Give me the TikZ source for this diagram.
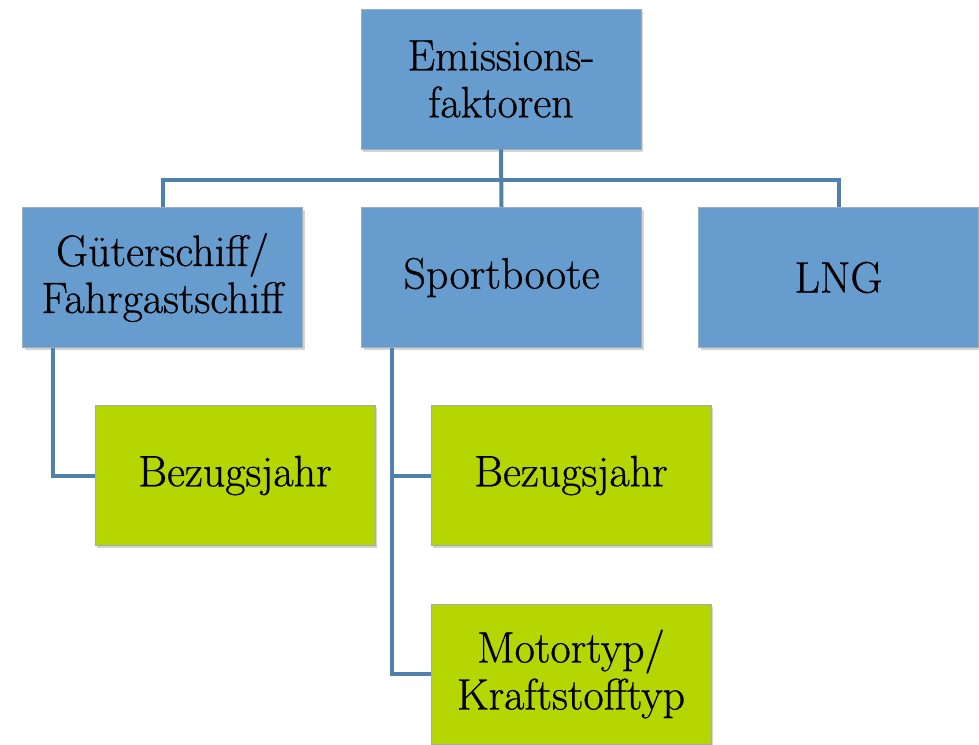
\documentclass[tikz,border=0pt]{standalone}
\usepackage{fontspec}
\newfontfamily\boxfont{Latin Modern Roman}[FakeBold=0.7]
\usetikzlibrary{shadows}
\definecolor{boxblue}{RGB}{102,157,206}
\definecolor{boxgreen}{RGB}{181,214,0}
\definecolor{linkblue}{RGB}{80,128,172}
\definecolor{edgegray}{RGB}{120,140,150}
\begin{document}
\begin{tikzpicture}[x=1pt,y=-1pt,
  box/.style={draw=edgegray!70,line width=0.6pt,minimum width=280pt,minimum height=140pt,
    align=center,inner sep=0pt,font=\boxfont\fontsize{44}{47}\selectfont,
    drop shadow={shadow xshift=2pt,shadow yshift=-2.5pt,opacity=0.35}},
  bluebox/.style={box,fill=boxblue},
  greenbox/.style={box,fill=boxgreen},
  link/.style={draw=linkblue,line width=4pt}]
\useasboundingbox (0,0) rectangle (979,744);
\node[bluebox] (top) at (501,79) {Emissions-\\faktoren};
\node[bluebox] (gs) at (162.5,277.5) {Güterschiff/\\Fahrgastschiff};
\node[bluebox] (sb) at (501.5,277.5) {Sportboote};
\node[bluebox] (lng) at (838.5,277.5) {LNG};
\node[greenbox] (bz1) at (235,475.5) {Bezugsjahr};
\node[greenbox] (bz2) at (571,475.5) {Bezugsjahr};
\node[greenbox] (mt) at (571,674) {Motortyp/\\Kraftstofftyp};
\coordinate (bus) at (501,180);
\draw[link] (top.south) -- (sb.north);
\draw[link] (gs.north) |- (bus) -| (lng.north);
\draw[link] ([xshift=-110pt]gs.south) |- (bz1.west);
\draw[link] ([xshift=-110pt]sb.south) |- (bz2.west);
\draw[link] ([xshift=-110pt]sb.south) |- (mt.west);
\end{tikzpicture}
\end{document}
